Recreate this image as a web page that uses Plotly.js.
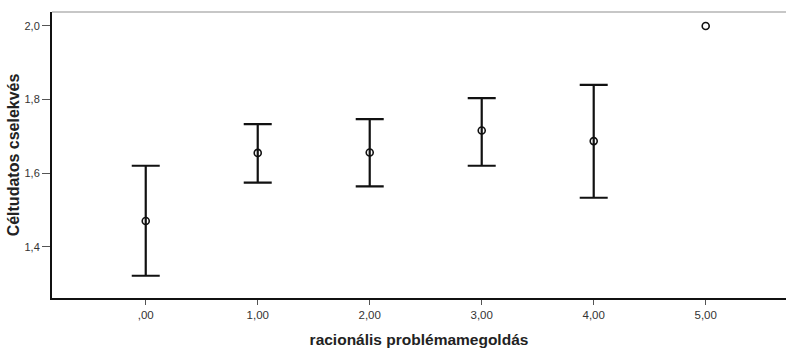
<!DOCTYPE html>
<html>
<head>
<meta charset="utf-8">
<script src="https://cdn.plot.ly/plotly-3.0.1.min.js"></script>
<style>html,body{margin:0;padding:0;background:#fff;}#chart{width:786px;height:348px;}</style>
</head>
<body>
<div id="chart"></div>
<script>
const categories = [0, 1, 2, 3, 4, 5];
const tickLabels = [",00", "1,00", "2,00", "3,00", "4,00", "5,00"];
const means = [1.470, 1.655, 1.656, 1.716, 1.687, 2.000];
const upperCI = [1.620, 1.733, 1.747, 1.804, 1.840, null];
const lowerCI = [1.321, 1.574, 1.564, 1.620, 1.533, null];

const eb = {x: [], y: [], plus: [], minus: []};
categories.forEach((c, i) => {
  if (upperCI[i] !== null && lowerCI[i] !== null) {
    eb.x.push(c); eb.y.push(means[i]);
    eb.plus.push(upperCI[i] - means[i]);
    eb.minus.push(means[i] - lowerCI[i]);
  }
});

const traces = [
  {
    x: eb.x, y: eb.y, type: 'scatter', mode: 'markers',
    marker: {size: 1, color: 'rgba(0,0,0,0)'},
    error_y: {type: 'data', symmetric: false, array: eb.plus, arrayminus: eb.minus,
              color: '#111', thickness: 2.2, width: 14},
    hoverinfo: 'skip', showlegend: false
  },
  {
    x: categories, y: means, type: 'scatter', mode: 'markers',
    marker: {symbol: 'circle-open', size: 7, color: '#111', line: {width: 1.6, color: '#111'}},
    showlegend: false
  }
];

const layout = {
  width: 786, height: 348,
  margin: {l: 52, r: 0, t: 12, b: 50},
  paper_bgcolor: '#fff', plot_bgcolor: '#fff',
  separators: ',.',
  font: {family: '"Liberation Sans", Arial, sans-serif', color: '#333'},
  xaxis: {
    range: [-0.837, 5.717],
    tickvals: categories, ticktext: tickLabels,
    showgrid: false, zeroline: false,
    showline: true, linecolor: '#111', linewidth: 2,
    ticks: 'outside', ticklen: 5, tickcolor: '#555', tickwidth: 1,
    tickfont: {size: 11.5, color: '#333'},
    title: {text: 'racionális problémamegoldás', font: {size: 15.5, color: '#222', family: '"Liberation Sans", Arial, sans-serif', weight: 'bold'}, standoff: 16}
  },
  yaxis: {
    range: [1.2605, 2.038],
    tickvals: [1.4, 1.6, 1.8, 2.0], tickformat: '.1f',
    showgrid: false, zeroline: false,
    showline: true, linecolor: '#111', linewidth: 2,
    ticks: 'outside', ticklen: 8, tickcolor: '#555', tickwidth: 1,
    tickfont: {size: 11, color: '#333'},
    title: {text: 'Céltudatos cselekvés', font: {size: 16, color: '#222', family: '"Liberation Sans", Arial, sans-serif', weight: 'bold'}, standoff: 1}
  },
  shapes: [
    {type: 'line', xref: 'paper', yref: 'paper', x0: 0, x1: 1, y0: 1, y1: 1,
     line: {color: '#b5b5b5', width: 1.5}}
  ]
};

Plotly.newPlot('chart', traces, layout, {displayModeBar: false, staticPlot: true});
</script>
</body>
</html>
